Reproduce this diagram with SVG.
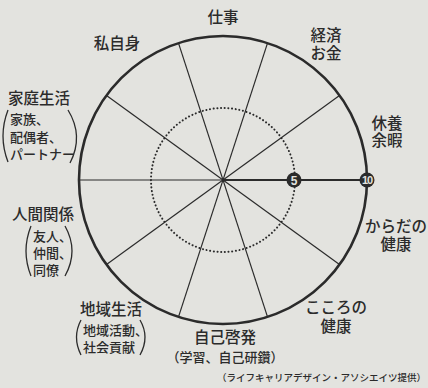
<svg xmlns="http://www.w3.org/2000/svg" width="428" height="388" viewBox="0 0 428 388">
<style>
text{font-family:"Noto Sans CJK JP","Noto Sans",sans-serif;fill:#2b2b2b;font-weight:500}
.m{font-size:15.5px}
.s{font-size:13px}
.c{text-anchor:middle}
.sp{stroke:#2b2b2b;stroke-width:1.2;fill:none}
.par{stroke:#2b2b2b;stroke-width:1.3;fill:none}
.num{font-family:"Liberation Sans",sans-serif;font-weight:bold;fill:#e3e3df;text-anchor:middle}
</style>
<rect width="428" height="388" fill="#e3e3df"/>
<g id="connectors">
<line class="sp" x1="79" y1="180" x2="367" y2="180"/>
<line class="sp" x1="339.5" y1="95.4" x2="106.5" y2="264.6"/>
<line class="sp" x1="267.5" y1="43.1" x2="178.5" y2="316.9"/>
<line class="sp" x1="178.5" y1="43.1" x2="267.5" y2="316.9"/>
<line class="sp" x1="106.5" y1="95.4" x2="339.5" y2="264.6"/>
<line x1="223" y1="180" x2="367" y2="180" stroke="#2b2b2b" stroke-width="1.8"/>
</g>
<g id="wheel">
<circle cx="223" cy="180" r="144" fill="none" stroke="#2b2b2b" stroke-width="2.6"/>
<circle cx="223" cy="180" r="72" fill="none" stroke="#2b2b2b" stroke-width="2" stroke-dasharray="0.1 3.6" stroke-linecap="round"/>
</g>
<g id="scale5">
<circle cx="294" cy="180" r="7.5" fill="#2b2b2b"/>
<text class="num" x="294" y="184.5" font-size="12">5</text>
</g>
<g id="scale10">
<circle cx="367" cy="180" r="7.5" fill="#2b2b2b"/>
<text class="num" x="367" y="184" font-size="11" letter-spacing="-1">10</text>
</g>
<g id="shigoto"><text class="m c" x="223" y="23">仕事</text></g>
<g id="watashi"><text class="m c" x="117" y="49">私自身</text></g>
<g id="keizai"><text class="m c" x="326" y="41">経済<tspan x="326" dy="18">お金</tspan></text></g>
<g id="kyuuyou"><text class="m c" x="387" y="129">休養<tspan x="387" dy="17">余暇</tspan></text></g>
<g id="karada"><text class="m c" x="396" y="232">からだの<tspan x="396" dy="18">健康</tspan></text></g>
<g id="kokoro"><text class="m c" x="336" y="313">こころの<tspan x="336" dy="19">健康</tspan></text></g>
<g id="jiko"><text class="m c" x="225" y="343">自己啓発</text><text class="s c" x="225" y="362">（学習、自己研鑽）</text></g>
<g id="chiiki">
<text class="m c" x="111" y="315">地域生活</text>
<text class="s" x="83" y="335">地域活動、<tspan x="83" dy="17">社会貢献</tspan></text>
<path class="par" d="M81,320 Q72,337 81,355"/>
<path class="par" d="M140,320 Q150,337 140,355"/>
</g>
<g id="ningen">
<text class="m c" x="43" y="220">人間関係</text>
<text class="s" x="33" y="241">友人、<tspan x="33" dy="17">仲間、</tspan><tspan x="33" dy="17">同僚</tspan></text>
<path class="par" d="M31,226 Q21,251 31,276"/>
<path class="par" d="M65,226 Q79,251 65,276"/>
</g>
<g id="katei">
<text class="m c" x="39" y="104">家庭生活</text>
<text class="s" x="10" y="124">家族、<tspan x="10" dy="18">配偶者、</tspan><tspan x="10" dy="17">パートナー</tspan></text>
<path class="par" d="M8,110 Q-2,136 8,162"/>
<path class="par" d="M68,110 Q84,136 70,163"/>
</g>
<g id="credit"><text x="217" y="381" font-size="9.5">（ライフキャリアデザイン・アソシエイツ提供）</text></g>
</svg>
